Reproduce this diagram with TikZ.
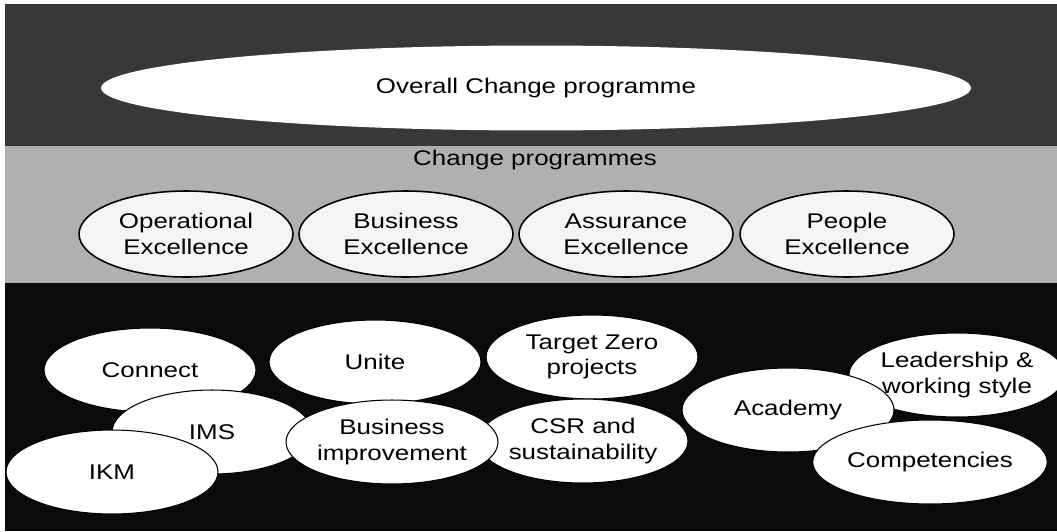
\documentclass[tikz,border=0pt]{standalone}
\usepackage{fontspec}
\setmainfont{Liberation Sans}[FakeStretch=1.22]
\usetikzlibrary{shapes.geometric}
\definecolor{topband}{gray}{0.22}
\definecolor{midband}{gray}{0.69}
\definecolor{lowband}{gray}{0.04}
\begin{document}
\begin{tikzpicture}[x=0.02cm, y=-0.02cm,
    every node/.style={font=\fontsize{12.1}{14.6}\selectfont, align=center},
    programme/.style={ellipse, fill=white!96!black, draw=black, line width=0.9pt,
      inner sep=0pt, minimum width=4.28cm, minimum height=1.72cm},
    oval/.style={ellipse, fill=white, draw=black, line width=0.6pt,
      inner sep=0pt, minimum width=4.24cm, minimum height=1.68cm}]
  \useasboundingbox (0,0) rectangle (1057,531);
  \clip (0,0) rectangle (1057,531);
  \fill[white] (0,0) rectangle (1057,531);
  \fill[topband] (5,4) rectangle (1057,146);
  \fill[midband] (5,146) rectangle (1057,283);
  \fill[lowband] (5,283) rectangle (1057,531);

  \node[ellipse, fill=white, inner sep=0pt, minimum width=17.4cm, minimum height=1.7cm]
    (overall) at (536,88) {Overall Change programme};
  \node (header) at (535,160) {Change programmes};

  \node[programme] (operational) at (186,234) {Operational\\Excellence};
  \node[programme] (business) at (406,234) {Business\\Excellence};
  \node[programme] (assurance) at (626,234) {Assurance\\Excellence};
  \node[programme] (people) at (847,234) {People\\Excellence};

  % later ovals sit on top of earlier ones
  \node[oval] (connect) at (150,370) {Connect};
  \node[oval, minimum width=4cm] (ims) at (212,432) {IMS};
  \node[oval] (ikm) at (112,472) {IKM};
  \node[oval] (unite) at (375,362) {Unite};
  \node[oval] (targetzero) at (592,357) {Target Zero\\projects};
  \node[oval, minimum width=4cm] (csr) at (583,441) {CSR and\\sustainability};
  \node[oval] (improvement) at (392,442) {Business\\improvement};
  \node[oval, minimum width=4.2cm] (leadership) at (957,375) {Leadership \&\\working style};
  \node[oval] (academy) at (788,410) {Academy};
  \node[oval] (competencies) at (930,462) {Competencies};
\end{tikzpicture}
\end{document}
